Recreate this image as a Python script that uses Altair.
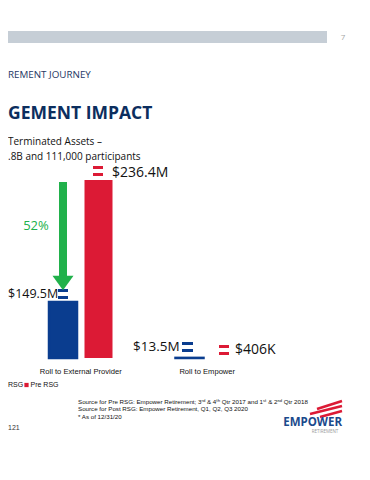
import altair as alt
import pandas as pd

# ---- data ----
categories = ["Roll to External Provider", "Roll to Empower"]
series = ["Post RSG", "Pre RSG"]
post_values = [149.5, 13.5]
pre_values = [236.4, 0.406]
label_post = ["$149.5M", "$13.5M"]
label_pre = ["$236.4M", "$406K"]
reduction_label = "52%"

BLUE = "#0a3d8f"
RED = "#dc1a35"
GREEN = "#21b14b"
NAVY = "#0c2e5e"

rows = []
for i, c in enumerate(categories):
    rows.append({"category": c, "series": series[0], "value": post_values[i], "label": label_post[i]})
    rows.append({"category": c, "series": series[1], "value": pre_values[i], "label": label_pre[i]})
df = pd.DataFrame(rows)

one = pd.DataFrame({"k": [0]})
SANS = "Open Sans"
ARIALN = "Liberation Sans Narrow, Arial Narrow, Liberation Sans, Arial"

bars = alt.Chart(df).mark_bar().encode(
    x=alt.X("category:N", sort=categories,
            scale=alt.Scale(paddingInner=0.498, paddingOuter=0.253),
            axis=alt.Axis(title=None, domain=False, ticks=False, labelAngle=0,
                          labelPadding=9, labelFont=ARIALN, labelFontSize=7.6,
                          labelColor="#111111")),
    xOffset=alt.XOffset("series:N", sort=series,
                        scale=alt.Scale(paddingInner=0.211, paddingOuter=0)),
    y=alt.Y("value:Q", scale=alt.Scale(type="pow", exponent=2.52, domain=[0, 236.4]), axis=None),
    color=alt.Color("series:N", scale=alt.Scale(domain=series, range=[BLUE, RED]), legend=None),
    stroke=alt.Stroke("series:N", scale=alt.Scale(domain=series, range=[BLUE, RED]), legend=None),
    strokeWidth=alt.StrokeWidth("series:N", scale=alt.Scale(domain=series, range=[2.5, 0]), legend=None),
)


def txt(text, x, y, size, color="#111111", font=SANS, weight="normal", align="left"):
    return alt.Chart(one).mark_text(text=text, fontSize=size, color=color, font=font,
                                    fontWeight=weight, align=align, baseline="middle").encode(
        x=alt.value(x), y=alt.value(y))


def rect(x1, x2, y1, y2, color):
    return alt.Chart(one).mark_rect(color=color).encode(
        x=alt.value(x1), x2=alt.value(x2), y=alt.value(y1), y2=alt.value(y2))


def icon(x1, x2, ytop, color):
    return [rect(x1, x2, ytop, ytop + 3, color), rect(x1, x2, ytop + 7, ytop + 10, color)]


layers = [bars]
# header band and page number
layers.append(rect(-9, 310, -149, -137, "#c6ced6"))
layers.append(txt("7", 326, -142, 8, color="#a6a6a6", align="center"))
layers.append(txt("REMENT JOURNEY", -9, -105, 9.8, color="#1f3864"))
layers.append(txt("GEMENT IMPACT", -9, -66, 17.5, color=NAVY, weight="bold"))
layers.append(txt("Terminated Assets \u2013", -9, -38, 10))
layers.append(txt(".8B and 111,000 participants", -9, -23, 10))

# value labels and icons
layers.append(txt(label_pre[0], 95, -7, 14))
layers += icon(76, 86, -14, RED)
layers.append(txt(label_post[0], -9, 114, 12.5))
layers += icon(41, 51, 109, BLUE)
layers.append(txt(label_post[1], 116, 167, 13.5))
layers += icon(165, 176, 162, BLUE)
layers += icon(202, 212, 165, RED)
layers.append(txt(label_pre[1], 218, 170, 14))

# green arrow
layers.append(alt.Chart(one).mark_rule(color=GREEN, strokeWidth=8).encode(
    x=alt.value(46), y=alt.value(2), y2=alt.value(98)))
layers.append(alt.Chart(one).mark_point(shape="M-1,-0.7L1,-0.7L0,0.7Z", size=441, filled=True,
                                        color=GREEN, opacity=1).encode(
    x=alt.value(46), y=alt.value(103)))
layers.append(txt(reduction_label, 19, 46, 13, color=GREEN, align="center"))

# legend
layers.append(txt("RSG", -9, 205, 7, font=ARIALN))
layers.append(alt.Chart(one).mark_square(size=18, color=RED, opacity=1).encode(
    x=alt.value(9.5), y=alt.value(205)))
layers.append(txt("Pre RSG", 13.5, 205, 7, font=ARIALN))

# sources
layers.append(txt("Source for Pre RSG: Empower Retirement; 3\u02b3\u1d48 & 4\u1d57\u02b0 Qtr 2017 and 1\u02e2\u1d57 & 2\u207f\u1d48 Qtr 2018",
                  61, 222, 6.2, font=ARIALN))
layers.append(txt("Source for Post RSG: Empower Retirement, Q1, Q2, Q3 2020", 61, 229, 6.2, font=ARIALN))
layers.append(txt("* As of 12/31/20", 61, 237, 6.2, font=ARIALN))
layers.append(txt("121", -9, 248, 7, color="#333333", font=ARIALN))

# logo
for (x1, y1, x2, y2) in [(300, 229, 325, 221), (293, 234, 325, 226), (303, 237, 325, 231)]:
    layers.append(alt.Chart(one).mark_rule(color=RED, strokeWidth=2.5).encode(
        x=alt.value(x1), y=alt.value(y1), x2=alt.value(x2), y2=alt.value(y2)))
layers.append(txt("EMPOWER", 325, 243, 11.5, color="#1b4a8c", weight="bold", align="right"))
layers.append(txt("RETIREMENT", 308, 252, 4.5, color="#9a9a9a", align="center"))

chart = alt.layer(*layers).properties(
    width=254, height=178,
    padding={"left": 9, "top": 172, "right": 91, "bottom": 106},
    autosize=alt.AutoSizeParams(type="none"),
    background="white",
).configure_view(stroke=None)

chart.save("out.html", embed_options={"renderer": "svg", "actions": False})
